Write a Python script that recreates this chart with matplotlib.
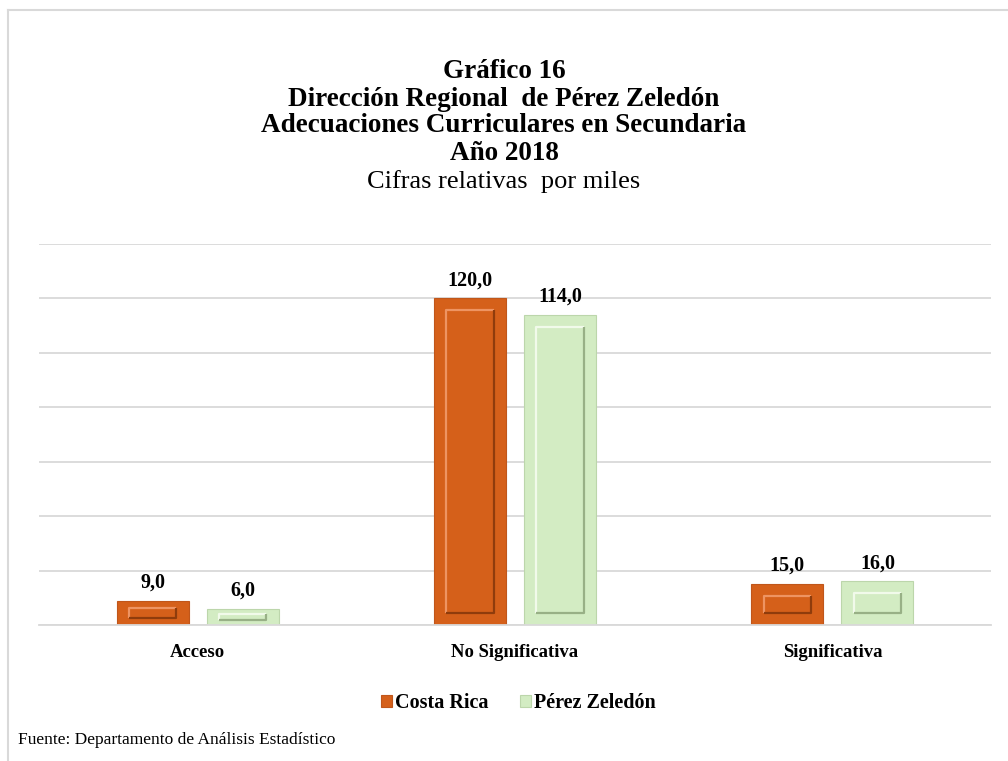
import matplotlib.pyplot as plt
import matplotlib.patches as mpatches
import numpy as np

# datos
categorias = ["Acceso", "No Significativa", "Significativa"]
costa_rica = [9.0, 120.0, 15.0]
perez_zeledon = [6.0, 114.0, 16.0]
series = ["Costa Rica", "Pérez Zeledón"]

col_cr = "#D5601A"
col_pz = "#D3ECC3"

plt.rcParams['font.family'] = ['Liberation Serif', 'DejaVu Serif']

fig = plt.figure(figsize=(10.08, 7.61), dpi=100)
ax = fig.add_axes([39/1008, 1-625/761, 952/1008, (625-244)/761])

x = np.arange(len(categorias))
w = 0.227
off = 0.142

b1 = ax.bar(x - off, costa_rica, w, color=col_cr, edgecolor="#C0561A", linewidth=0.8, label=series[0], zorder=2)
b2 = ax.bar(x + off, perez_zeledon, w, color=col_pz, edgecolor="#BCD6AB", linewidth=0.8, label=series[1], zorder=2)

# efecto de bisel dentro de cada barra
def bisel(barras, oscuro, claro):
    for r in barras:
        bx, by = r.get_x(), r.get_y()
        bw, bh = r.get_width(), r.get_height()
        mx = bw * 0.17
        my = min(bh * 0.3, 4.4)
        x0, x1 = bx + mx, bx + bw - mx
        y0, y1 = by + my, by + bh - my
        # lados claros (arriba, izquierda) y oscuros (abajo, derecha)
        ax.plot([x0, x0, x1], [y0, y1, y1], color=claro, linewidth=1.6, zorder=3, solid_capstyle="butt")
        ax.plot([x0, x1, x1], [y0, y0, y1], color=oscuro, linewidth=1.6, zorder=3, solid_capstyle="butt")

bisel(b1, "#8F3C0C", "#EE9462")
bisel(b2, "#98B086", "#F1FAEA")

for barras in (b1, b2):
    for r in barras:
        v = r.get_height()
        ax.text(r.get_x() + r.get_width()/2, v + 3, ("%.1f" % v).replace(".", ","),
                ha="center", va="bottom", fontsize=14.5, fontweight="bold")

ax.set_ylim(0, 140)
ax.set_xlim(-0.5, 2.5)
ax.set_yticks(np.arange(0, 141, 20))
ax.yaxis.grid(True, color="#D9D9D9", linewidth=1.3, zorder=0)
ax.tick_params(axis="y", left=False, labelleft=False)
ax.tick_params(axis="x", length=0, pad=14)
ax.set_xticks(x)
ax.set_xticklabels(categorias, fontsize=13.5, fontweight="bold")
for s in ["top", "right", "left"]:
    ax.spines[s].set_visible(False)
ax.spines["bottom"].set_color("#D9D9D9")
ax.spines["bottom"].set_linewidth(1.3)

# titulo
titulo = ["Gráfico 16", "Dirección Regional  de Pérez Zeledón",
          "Adecuaciones Curriculares en Secundaria", "Año 2018"]
ys = [72, 99, 126, 153]
for t, yy in zip(titulo, ys):
    fig.text(0.5, 1 - yy/761, t, ha="center", va="center", fontsize=19.5, fontweight="bold")
fig.text(0.5, 1 - 182/761, "Cifras relativas  por miles", ha="center", va="center", fontsize=19)

leg = fig.legend(handles=[b1, b2], labels=series, loc="center", bbox_to_anchor=(0.514, 1 - 703/761),
                 ncol=2, frameon=False, prop={"weight": "bold", "size": 14.5},
                 handlelength=0.55, handleheight=0.55, handletextpad=0.15, columnspacing=1.55)

fig.text(18/1008, 1 - 740/761, "Fuente: Departamento de Análisis Estadístico", ha="left", va="center", fontsize=12.5)

# marco
fig.add_artist(plt.Line2D([8/1008, 8/1008], [0, 1 - 10/761], color="#D9D9D9", linewidth=1.5))
fig.add_artist(plt.Line2D([8/1008, 1], [1 - 10/761, 1 - 10/761], color="#D9D9D9", linewidth=1.5))

fig.savefig("out.png", dpi=100)
